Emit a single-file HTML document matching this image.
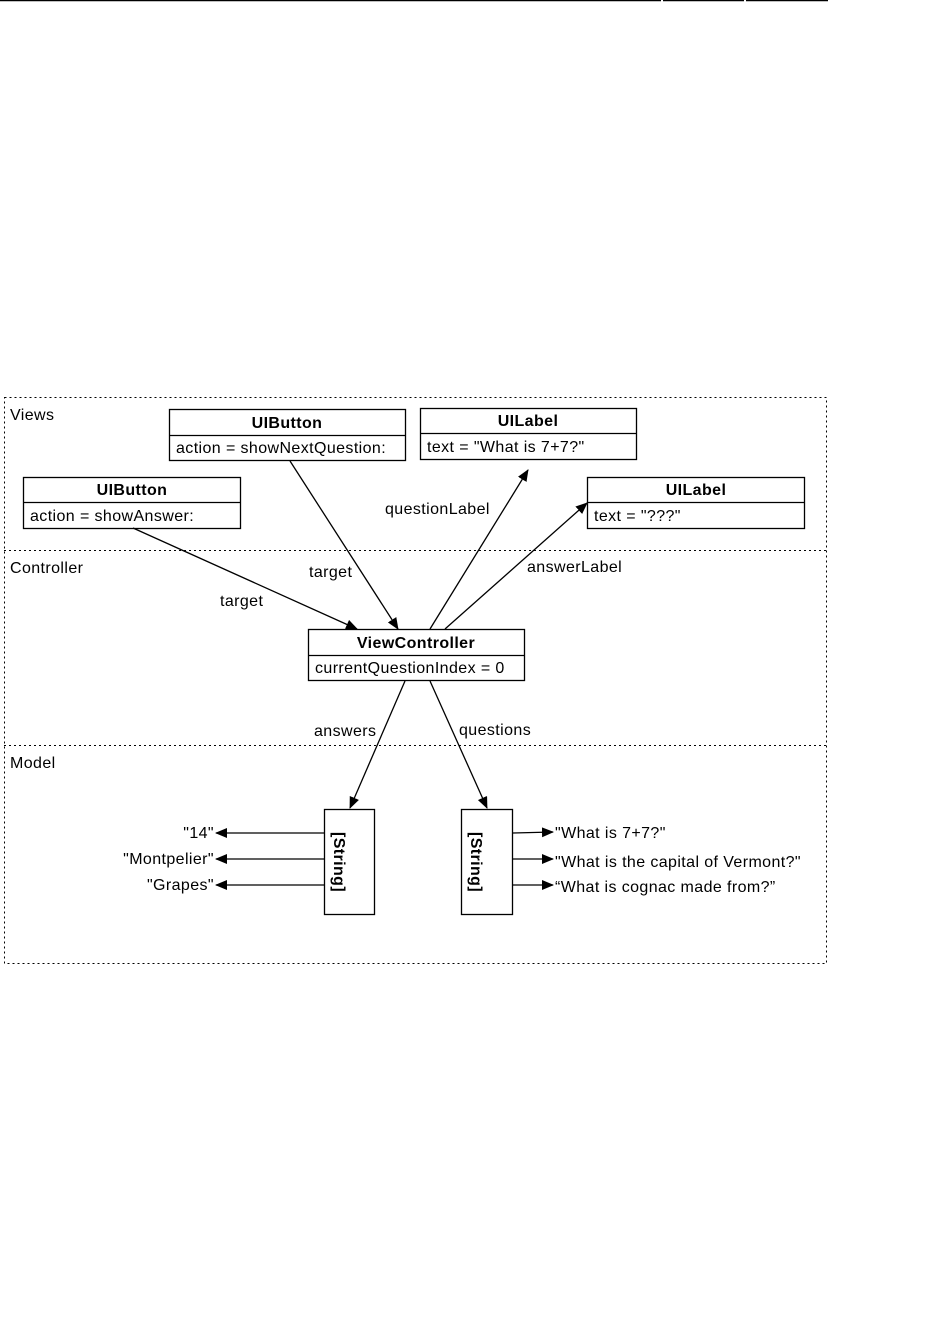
<!DOCTYPE html>
<html><head><style>
body{margin:0;background:#fff;width:935px;height:1339px;overflow:hidden}
text{font-family:"Liberation Sans",Arial,sans-serif;font-size:16px;letter-spacing:0.4px;fill:#000}
.b{font-weight:bold}
</style></head><body>
<svg width="935" height="1339" xmlns="http://www.w3.org/2000/svg">
<defs><marker id="a" markerWidth="12" markerHeight="10" refX="11" refY="5" orient="auto" markerUnits="userSpaceOnUse"><path d="M0,0 L12,5 L0,10 z" fill="#000"/></marker></defs>
<line x1="0" y1="0.5" x2="661" y2="0.5" stroke="#000" stroke-width="1.5"/>
<line x1="663" y1="0.5" x2="744" y2="0.5" stroke="#000" stroke-width="1.5"/>
<line x1="746" y1="0.5" x2="828" y2="0.5" stroke="#000" stroke-width="1.5"/>
<g stroke="#000" stroke-dasharray="2,3" fill="none" stroke-width="1">
<rect x="4.5" y="397.5" width="822" height="566"/>
<line x1="4" y1="550.5" x2="827" y2="550.5"/>
<line x1="4" y1="745.5" x2="827" y2="745.5"/>
</g>
<text x="10" y="420">Views</text>
<text x="10" y="573">Controller</text>
<text x="10" y="768">Model</text>
<g fill="#fff" stroke="#000" stroke-width="1.3">
<rect x="169.5" y="409.5" width="236" height="51"/><line x1="169" y1="435.5" x2="406" y2="435.5"/>
<rect x="420.5" y="408.5" width="216" height="51"/><line x1="420" y1="433.5" x2="637" y2="433.5"/>
<rect x="23.5" y="477.5" width="217" height="51"/><line x1="23" y1="502.5" x2="241" y2="502.5"/>
<rect x="587.5" y="477.5" width="217" height="51"/><line x1="587" y1="502.5" x2="805" y2="502.5"/>
<rect x="308.5" y="629.5" width="216" height="51"/><line x1="308" y1="655.5" x2="525" y2="655.5"/>
<rect x="324.5" y="809.5" width="50" height="105"/>
<rect x="461.5" y="809.5" width="51" height="105"/>
</g>
<text class="b" x="287" y="428" text-anchor="middle">UIButton</text>
<text x="176" y="453">action = showNextQuestion:</text>
<text class="b" x="528" y="426" text-anchor="middle">UILabel</text>
<text x="427" y="452">text = "What is 7+7?"</text>
<text class="b" x="132" y="495" text-anchor="middle">UIButton</text>
<text x="30" y="521">action = showAnswer:</text>
<text class="b" x="696" y="495" text-anchor="middle">UILabel</text>
<text x="594" y="521">text = "???"</text>
<text class="b" x="416" y="648" text-anchor="middle">ViewController</text>
<text x="315" y="673">currentQuestionIndex = 0</text>
<text class="b" transform="translate(334,862) rotate(90)" text-anchor="middle">[String]</text>
<text class="b" transform="translate(471,862) rotate(90)" text-anchor="middle">[String]</text>
<g stroke="#000" stroke-width="1.3" marker-end="url(#a)">
<line x1="133" y1="528" x2="357" y2="629"/>
<line x1="290" y1="461" x2="398" y2="629"/>
<line x1="430" y1="629" x2="528" y2="470"/>
<line x1="445" y1="629" x2="587" y2="503"/>
<line x1="405" y1="681" x2="350" y2="808"/>
<line x1="430" y1="681" x2="487" y2="808"/>
<line x1="324" y1="833" x2="216" y2="833"/>
<line x1="324" y1="859" x2="216" y2="859"/>
<line x1="324" y1="885" x2="216" y2="885"/>
<line x1="513" y1="833" x2="553" y2="832"/>
<line x1="513" y1="859" x2="553" y2="859"/>
<line x1="513" y1="885" x2="553" y2="885"/>
</g>
<text x="385" y="514">questionLabel</text>
<text x="309" y="577">target</text>
<text x="220" y="606">target</text>
<text x="527" y="572">answerLabel</text>
<text x="314" y="736">answers</text>
<text x="459" y="735">questions</text>
<text x="214" y="838" text-anchor="end">"14"</text>
<text x="214" y="864" text-anchor="end">"Montpelier"</text>
<text x="214" y="890" text-anchor="end">"Grapes"</text>
<text x="555" y="838">"What is 7+7?"</text>
<text x="555" y="867">"What is the capital of Vermont?"</text>
<text x="555" y="892">“What is cognac made from?”</text>
</svg>
</body></html>
